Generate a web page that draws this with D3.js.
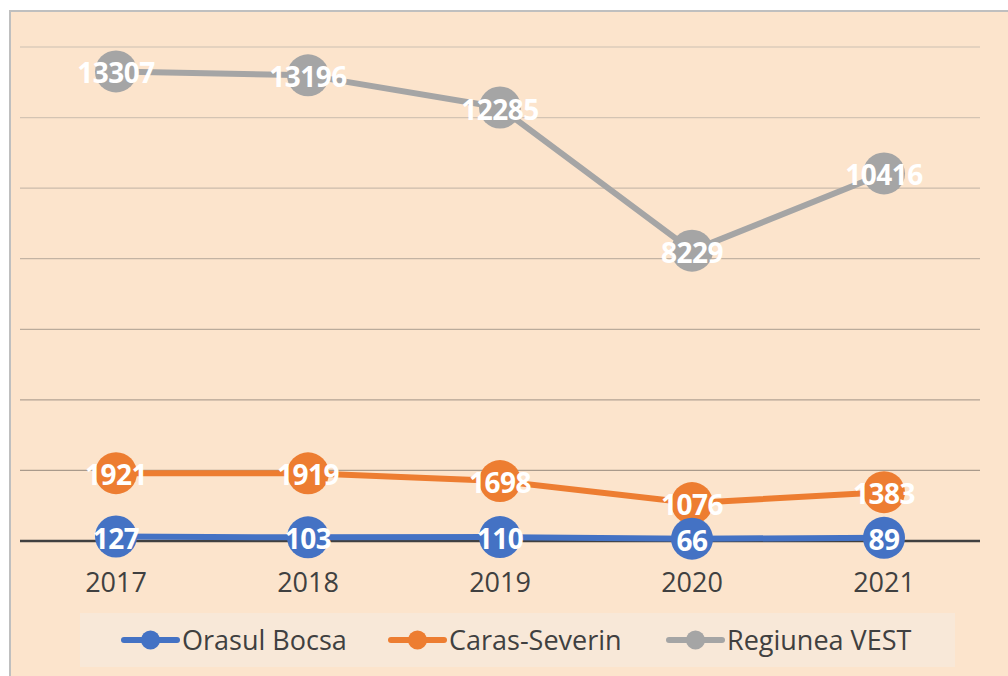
<!DOCTYPE html>
<html>
<head>
<meta charset="utf-8">
<script src="https://cdn.jsdelivr.net/npm/d3@7"></script>
<style>
  body { margin: 0; background: #ffffff; }
  svg text { font-family: "Open Sans", "Liberation Sans", sans-serif; }
</style>
</head>
<body>
<div id="chart"></div>
<script>
// data
var years = ["2017", "2018", "2019", "2020", "2021"];
var seriesNames = ["Orasul Bocsa", "Caras-Severin", "Regiunea VEST"];
var bocsa = [127, 103, 110, 66, 89];
var caras = [1921, 1919, 1698, 1076, 1383];
var vest = [13307, 13196, 12285, 8229, 10416];
var colors = ["#4472C4", "#ED7D31", "#A5A5A5"];
var yTicks = [0, 2000, 4000, 6000, 8000, 10000, 12000, 14000];

var size = { width: 1008, height: 676 };

var svg = d3.select("#chart").append("svg")
	.attr("width", size.width)
	.attr("height", size.height);

// chart frame
svg.append("rect")
	.attr("x", 10).attr("y", 11)
	.attr("width", 1010).attr("height", 680)
	.attr("fill", "#FCE4CC")
	.attr("stroke", "#BFBFBF")
	.attr("stroke-width", 2);

// scales
var xScale = d3.scaleBand()
	.domain(years)
	.range([20, 980]);

var yScale = d3.scaleLinear()
	.domain([0, 14000])
	.range([541, 47]);

// gridlines get a bit darker towards the bottom
var gridColor = d3.scaleLinear()
	.domain([2000, 14000])
	.range(["#A99A8B", "#DCCCBB"]);

svg.append("g")
	.selectAll("line")
	.data(yTicks.slice(1))
	.enter()
	.append("line")
	.attr("x1", 20).attr("x2", 980)
	.attr("y1", function(d) { return yScale(d); })
	.attr("y2", function(d) { return yScale(d); })
	.attr("stroke", function(d) { return gridColor(d); })
	.attr("stroke-width", 1.3);

// x axis
var x_axis = d3.axisBottom(xScale).tickSize(0).tickPadding(32);
var xg = svg.append("g")
	.attr("transform", "translate(0," + yScale(0) + ")")
	.call(x_axis);
xg.select(".domain").remove();
xg.selectAll("text")
	.attr("fill", "#404040")
	.style("font-size", "27px");

svg.append("line")
	.attr("x1", 20).attr("x2", 980)
	.attr("y1", yScale(0)).attr("y2", yScale(0))
	.attr("stroke", "#404040")
	.attr("stroke-width", 2.5);

var allSeries = [bocsa, caras, vest];

var line = d3.line()
	.x(function(d, i) { return xScale(years[i]) + xScale.bandwidth() / 2; })
	.y(function(d) { return yScale(d); });

// draw from the back: vest, caras, bocsa
[2, 1, 0].forEach(function(s)
{
	var g = svg.append("g");
	var vals = allSeries[s];

	g.append("path")
		.datum(vals)
		.attr("d", line)
		.attr("fill", "none")
		.attr("stroke", colors[s])
		.attr("stroke-width", 6)
		.attr("stroke-linejoin", "round");

	g.selectAll("circle")
		.data(vals)
		.enter()
		.append("circle")
		.attr("cx", function(d, i) { return xScale(years[i]) + xScale.bandwidth() / 2; })
		.attr("cy", function(d) { return yScale(d); })
		.attr("r", 21)
		.attr("fill", colors[s]);

	g.selectAll("text")
		.data(vals)
		.enter()
		.append("text")
		.attr("x", function(d, i) { return xScale(years[i]) + xScale.bandwidth() / 2; })
		.attr("y", function(d) { return yScale(d) + 12; })
		.attr("text-anchor", "middle")
		.attr("fill", "#ffffff")
		.style("font-size", "28px")
		.style("font-weight", "bold")
		.style("letter-spacing", "-0.5px")
		.text(function(d) { return d; });
});

// legend
svg.append("rect")
	.attr("x", 80).attr("y", 613)
	.attr("width", 875).attr("height", 54)
	.attr("fill", "#F8E8D8");

var legendX = [122, 389, 667];
seriesNames.forEach(function(name, i)
{
	var lg = svg.append("g")
		.attr("transform", "translate(" + legendX[i] + ",640)");

	lg.append("line")
		.attr("x1", 2).attr("x2", 55)
		.attr("stroke", colors[i])
		.attr("stroke-width", 6)
		.attr("stroke-linecap", "round");

	lg.append("circle")
		.attr("cx", 28.5)
		.attr("r", 9.5)
		.attr("fill", colors[i]);

	lg.append("text")
		.attr("x", 60)
		.attr("y", 10)
		.attr("fill", "#404040")
		.style("font-size", "27px")
		.text(name);
});
</script>
</body>
</html>
